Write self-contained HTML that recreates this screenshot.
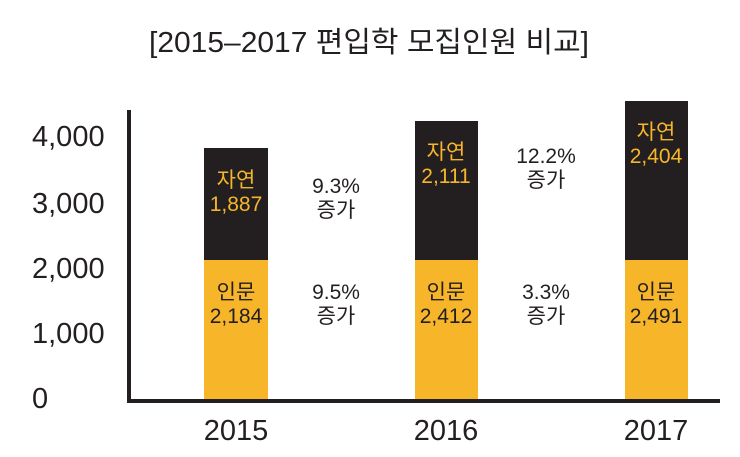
<!DOCTYPE html>
<html><head><meta charset="utf-8"><style>
body{margin:0;background:#fff;}
svg text{font-family:"Liberation Sans","Noto Sans CJK KR",sans-serif;}
</style></head><body>
<svg width="740" height="452" viewBox="0 0 740 452" xmlns="http://www.w3.org/2000/svg">
<rect width="740" height="452" fill="#fff"/>
<text x="369" y="52" font-size="29" text-anchor="middle" fill="#231f20" textLength="440" lengthAdjust="spacingAndGlyphs">[2015–2017 편입학 모집인원 비교]</text>
<g font-size="29" fill="#231f20" text-anchor="start">
<text x="32" y="146">4,000</text>
<text x="32" y="213">3,000</text>
<text x="32" y="278">2,000</text>
<text x="32" y="343">1,000</text>
<text x="32" y="408">0</text>
</g>
<rect x="204" y="148" width="64" height="112" fill="#231f20"/>
<rect x="204" y="260" width="64" height="140" fill="#f7b52a"/>
<rect x="415" y="121" width="63" height="139" fill="#231f20"/>
<rect x="415" y="260" width="63" height="140" fill="#f7b52a"/>
<rect x="625" y="101" width="63" height="159" fill="#231f20"/>
<rect x="625" y="260" width="63" height="140" fill="#f7b52a"/>
<rect x="127" y="110" width="4" height="293" fill="#231f20"/>
<rect x="127" y="399" width="593" height="4" fill="#231f20"/>
<g font-size="21" text-anchor="middle">
<text x="236" y="187" fill="#f7b52a">자연</text><text x="236" y="211" fill="#f7b52a">1,887</text>
<text x="236" y="299" fill="#231f20">인문</text><text x="236" y="323" fill="#231f20">2,184</text>
<text x="446" y="159" fill="#f7b52a">자연</text><text x="446" y="183" fill="#f7b52a">2,111</text>
<text x="446" y="299" fill="#231f20">인문</text><text x="446" y="323" fill="#231f20">2,412</text>
<text x="656" y="139" fill="#f7b52a">자연</text><text x="656" y="163" fill="#f7b52a">2,404</text>
<text x="656" y="299" fill="#231f20">인문</text><text x="656" y="323" fill="#231f20">2,491</text>
<g fill="#231f20">
<text x="336" y="193">9.3%</text><text x="336" y="217">증가</text>
<text x="336" y="299">9.5%</text><text x="336" y="323">증가</text>
<text x="546" y="163">12.2%</text><text x="546" y="187">증가</text>
<text x="546" y="299">3.3%</text><text x="546" y="323">증가</text>
</g>
</g>
<g font-size="29" fill="#231f20" text-anchor="middle">
<text x="236" y="440">2015</text>
<text x="446" y="440">2016</text>
<text x="656" y="440">2017</text>
</g>
</svg>
</body></html>
